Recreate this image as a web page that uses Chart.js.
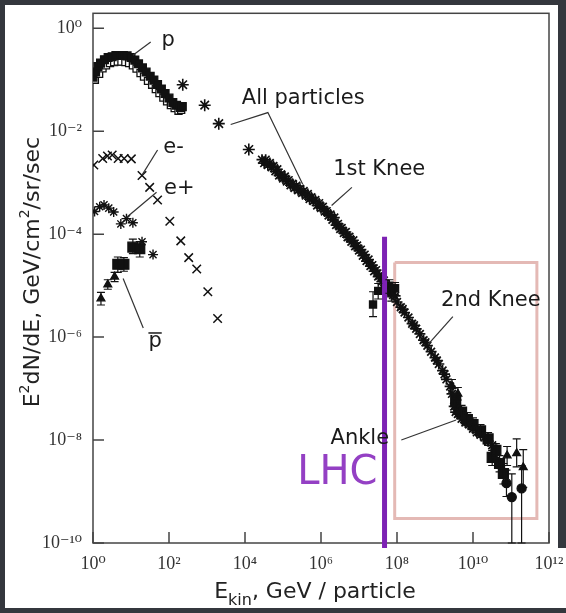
<!DOCTYPE html>
<html>
<head>
<meta charset="utf-8">
<script src="https://cdn.jsdelivr.net/npm/chart.js@4.4.1/dist/chart.umd.min.js"></script>
<style>
  html, body { margin: 0; padding: 0; background: #34373d; }
  .paper { position: absolute; background: #fff; }
  #wrap { position: absolute; left: 5px; top: 5px; width: 561px; height: 603px; }
</style>
</head>
<body>
<div class="paper" style="left:5px;top:5px;width:553px;height:603px"></div>
<div class="paper" style="left:530px;top:548px;width:36px;height:60px"></div>
<div id="wrap"><canvas id="chart"></canvas></div>
<script>
// axis ticks
const xTicks = [1e0, 1e2, 1e4, 1e6, 1e8, 1e10, 1e12];
const yTicks = [1e0, 1e-2, 1e-4, 1e-6, 1e-8, 1e-10];

// protons (two overlapping data sets)
const protonE = [1.0, 1.17, 1.35, 1.58, 2.0, 2.5, 3.2, 4.0, 5.0, 6.3, 7.9, 10, 12.6, 15.8, 20, 25, 32, 40, 50, 63, 79, 100, 126, 158, 200, 224];
const protonFlux = [0.112, 0.141, 0.18, 0.21, 0.245, 0.27, 0.28, 0.295, 0.295, 0.295, 0.29, 0.27, 0.24, 0.204, 0.17, 0.141, 0.117, 0.098, 0.081, 0.066, 0.054, 0.044, 0.036, 0.032, 0.029, 0.030];
const protonE2 = [1.12, 1.45, 1.78, 2.2, 2.8, 3.6, 4.5, 5.6, 7.1, 8.9, 11.2, 14, 17.8, 22, 28, 36, 45, 56, 71, 89, 112, 141, 178, 209];
const protonFlux2 = [0.10, 0.13, 0.166, 0.19, 0.21, 0.22, 0.224, 0.224, 0.219, 0.21, 0.19, 0.165, 0.135, 0.115, 0.095, 0.08, 0.066, 0.055, 0.045, 0.038, 0.032, 0.028, 0.025, 0.026];

// all particles
const allSparseE = [230, 870, 2040, 1.26e4];
const allSparseFlux = [0.08, 0.032, 0.014, 4.4e-3];
const allE = [2.8e4, 3.2e4, 3.5e4, 4.0e4, 4.5e4, 5.0e4, 5.6e4, 6.3e4, 7.1e4, 7.9e4, 8.9e4,
  1.0e5, 1.12e5, 1.26e5, 1.41e5, 1.58e5, 1.78e5, 2.0e5, 2.24e5, 2.5e5, 2.8e5, 3.2e5, 3.5e5, 4.0e5, 4.5e5, 5.0e5, 5.6e5, 6.3e5, 7.1e5, 7.9e5, 8.9e5,
  1.0e6, 1.12e6, 1.26e6, 1.41e6, 1.58e6, 1.78e6, 2.0e6, 2.24e6, 2.5e6, 2.8e6, 3.2e6, 3.5e6, 4.0e6, 4.5e6, 5.0e6, 5.6e6, 6.3e6, 7.1e6, 7.9e6, 8.9e6,
  1.0e7, 1.12e7, 1.26e7, 1.41e7, 1.58e7, 1.78e7, 2.0e7, 2.24e7, 2.5e7, 2.8e7, 3.2e7, 3.5e7, 4.0e7, 4.5e7, 5.0e7, 5.6e7, 6.3e7, 7.1e7, 7.9e7, 8.9e7,
  1.0e8, 1.26e8, 1.41e8, 1.58e8, 2.0e8, 2.5e8, 2.8e8, 3.2e8, 4.0e8, 5.0e8, 5.6e8, 6.3e8, 7.9e8,
  1.0e9, 1.12e9, 1.26e9, 1.58e9, 1.78e9, 2.0e9, 2.5e9, 2.8e9, 3.2e9, 3.5e9, 4.0e9, 4.5e9, 5.0e9, 5.6e9, 6.3e9, 7.9e9,
  1.0e10, 1.26e10, 1.58e10, 2.0e10, 2.5e10, 3.2e10];
const allFlux = [2.8e-3, 2.4e-3, 2.8e-3, 2.2e-3, 2.4e-3, 2.0e-3, 2.1e-3, 1.66e-3, 1.82e-3, 1.38e-3, 1.45e-3,
  1.2e-3, 1.32e-3, 1.05e-3, 1.12e-3, 8.9e-4, 9.5e-4, 7.9e-4, 8.7e-4, 7.1e-4, 7.6e-4, 6.3e-4, 6.9e-4, 5.6e-4, 6.0e-4, 4.8e-4, 5.2e-4, 4.4e-4, 4.6e-4, 3.6e-4, 4.0e-4,
  3.2e-4, 3.4e-4, 2.75e-4, 2.8e-4, 2.3e-4, 2.4e-4, 1.9e-4, 2.1e-4, 1.5e-4, 1.58e-4, 1.26e-4, 1.32e-4, 1.05e-4, 1.1e-4, 8.7e-5, 8.9e-5, 7.1e-5, 7.6e-5, 5.8e-5, 6.0e-5,
  4.8e-5, 5.0e-5, 3.8e-5, 4.0e-5, 3.0e-5, 3.2e-5, 2.4e-5, 2.5e-5, 1.9e-5, 2.0e-5, 1.5e-5, 1.58e-5, 1.2e-5, 1.26e-5, 1.0e-5, 9.5e-6, 8.3e-6, 7.9e-6, 6.6e-6, 6.3e-6,
  4.8e-6, 3.8e-6, 3.5e-6, 3.0e-6, 2.4e-6, 1.82e-6, 1.7e-6, 1.45e-6, 1.15e-6, 8.7e-7, 7.9e-7, 6.8e-7, 5.2e-7,
  4.0e-7, 3.5e-7, 3.0e-7, 2.24e-7, 1.9e-7, 1.51e-7, 1.1e-7, 7.9e-8, 4.5e-8, 3.5e-8, 3.2e-8, 3.5e-8, 2.6e-8, 2.8e-8, 2.2e-8, 2.0e-8,
  1.66e-8, 1.41e-8, 1.26e-8, 1.12e-8, 9.5e-9, 7.9e-9];

// points with error bars around the LHC energy
const lhcPtsE = [2.34e7, 3.2e7, 6.3e7, 7.1e7, 8.9e7];
const lhcPtsFlux = [4.3e-6, 7.9e-6, 1.0e-5, 7.1e-6, 8.9e-6];
const lhcPtsLo = [2.5e-6, 5.5e-6, 7.1e-6, 5.0e-6, 6.6e-6];
const lhcPtsHi = [7.6e-6, 1.1e-5, 1.3e-5, 9.0e-6, 1.15e-5];

// highest energies
const hiSqE = [3.5e9, 5.0e9, 7.1e9, 1.0e10, 1.58e10, 2.5e10, 3.2e10, 4.0e10, 5.0e10, 6.3e10];
const hiSqFlux = [5.6e-8, 3.5e-8, 2.5e-8, 2.0e-8, 1.51e-8, 1.05e-8, 4.6e-9, 6.3e-9, 3.5e-9, 2.24e-9];
const hiSqLo = [4.2e-8, 2.6e-8, 1.9e-8, 1.5e-8, 1.13e-8, 7.9e-9, 3.2e-9, 4.6e-9, 2.4e-9, 1.4e-9];
const hiSqHi = [7.6e-8, 4.7e-8, 3.4e-8, 2.7e-8, 2.0e-8, 1.4e-8, 6.3e-9, 8.5e-9, 5.0e-9, 3.5e-9];
const hiTriE = [2.8e9, 4.0e9, 7.9e10, 1.41e11, 2.1e11];
const hiTriFlux = [1.12e-7, 7.9e-8, 5.0e-9, 5.5e-9, 2.95e-9];
const hiTriLo = [8.5e-8, 6.0e-8, 3.2e-9, 3.0e-9, 1.2e-9];
const hiTriHi = [1.5e-7, 1.05e-7, 7.5e-9, 1.05e-8, 6.5e-9];
const hiCircE = [7.6e10, 1.05e11, 1.9e11];
const hiCircFlux = [1.45e-9, 7.8e-10, 1.15e-9];
const hiCircLo = [8e-10, 1e-10, 1e-10];
const hiCircHi = [2.6e-9, 2.2e-9, 3.2e-9];

// electrons, positrons, antiprotons
const eMinusE = [1.05, 1.8, 2.4, 3.2, 4.6, 6.6, 10.2, 19.5, 31, 50, 105, 204, 330, 537, 1050, 1900];
const eMinusFlux = [2.2e-3, 2.95e-3, 3.3e-3, 3.45e-3, 2.95e-3, 2.95e-3, 2.9e-3, 1.38e-3, 8.1e-4, 4.6e-4, 1.78e-4, 7.4e-5, 3.5e-5, 2.1e-5, 7.6e-6, 2.3e-6];
const ePlusE = [1.1, 1.5, 1.95, 2.6, 3.5, 5.4, 7.6, 11.2, 19.5, 38];
const ePlusFlux = [2.75e-4, 3.4e-4, 3.7e-4, 3.2e-4, 2.7e-4, 1.58e-4, 2.0e-4, 1.66e-4, 7.1e-5, 4.0e-5];
const pbarTriE = [1.62, 2.45, 3.7];
const pbarTriFlux = [5.6e-6, 1.05e-5, 1.48e-5];
const pbarTriLo = [4.2e-6, 8.5e-6, 1.2e-5];
const pbarTriHi = [7.4e-6, 1.3e-5, 1.8e-5];
const pbarSqE = [4.5, 6.5, 11.2, 17];
const pbarSqFlux = [2.6e-5, 2.6e-5, 5.6e-5, 5.2e-5];
const pbarSqLo = [1.8e-5, 1.9e-5, 4.2e-5, 3.6e-5];
const pbarSqHi = [3.6e-5, 3.5e-5, 8.0e-5, 7.2e-5];

// LHC line and highlighted region
const lhcE = 4.7e7;
const lhcFlux = [8.9e-5, 8e-11];
const boxE = [8.7e7, 4.8e11];
const boxFlux = [2.8e-5, 3.0e-10];

// annotations: [E, flux]
const notes = [
  { text: "p", x: 95, y: 0.57 },
  { text: "All particles", x: 3.4e5, y: 0.043 },
  { text: "1st Knee", x: 3.4e7, y: 1.8e-3 },
  { text: "e-", x: 132, y: 4.9e-3 },
  { text: "e+", x: 186, y: 7.8e-4 },
  { text: "p", x: 43, y: 8.1e-7, bar: true },
  { text: "2nd Knee", x: 2.95e10, y: 5.1e-6 },
  { text: "Ankle", x: 1.05e7, y: 1.07e-8 },
  { text: "LHC", x: 2.7e6, y: 2.2e-9, color: "#9440c4", size: 40 },
];
const leaders = [
  [[11.2, 0.30], [33, 0.54]],
  [[4.2e3, 0.0135], [4.0e4, 0.023], [3.3e5, 9.3e-4]],
  [[1.9e6, 3.6e-4], [6.5e6, 8.1e-4]],
  [[20, 1.45e-3], [50, 4.3e-3]],
  [[7.6, 2.1e-4], [47, 6.5e-4]],
  [[6.2, 1.38e-5], [21, 1.5e-6]],
  [[2.95e9, 2.5e-6], [6.6e8, 7.2e-7]],
  [[1.3e8, 1.0e-8], [3.6e9, 2.45e-8]],
];

const INK = "#111";
const SANS = '"DejaVu Sans", sans-serif';
const SERIF = '"Liberation Serif", "DejaVu Serif", serif';

function pts(xs, ys) {
  return xs.map((v, i) => ({ x: v, y: ys[i] }));
}

const supMap = { "-": "⁻", "0": "⁰", "1": "¹", "2": "²", "3": "³", "4": "⁴", "5": "⁵", "6": "⁶", "7": "⁷", "8": "⁸", "9": "⁹" };
function powLabel(v) {
  const e = Math.round(Math.log10(v));
  return "10" + String(e).split("").map((c) => supMap[c]).join("");
}

function scatterSet(xs, ys, style, radius, fill, extra) {
  return Object.assign({
    type: "scatter",
    data: pts(xs, ys),
    pointStyle: style,
    pointRadius: radius,
    pointBackgroundColor: fill,
    pointBorderColor: INK,
    pointBorderWidth: 1.3,
    order: 5,
  }, extra || {});
}

const datasets = [
  {
    type: "line",
    data: [{ x: boxE[0], y: boxFlux[0] }, { x: boxE[1], y: boxFlux[0] }, { x: boxE[1], y: boxFlux[1] }, { x: boxE[0], y: boxFlux[1] }, { x: boxE[0], y: boxFlux[0] }],
    borderColor: "#e4b9b5",
    borderWidth: 3,
    pointRadius: 0,
    fill: false,
    order: 10,
  },
  scatterSet(protonE2, protonFlux2, "rect", 5, "#fff", { order: 6 }),
  scatterSet(protonE, protonFlux, "rect", 5.5, INK),
  scatterSet(allSparseE, allSparseFlux, "star", 6, INK, { pointBorderWidth: 1.6 }),
  scatterSet(allE, allFlux, "star", 5.5, INK, { pointBorderWidth: 1.7 }),
  scatterSet(eMinusE, eMinusFlux, "crossRot", 6, INK, { pointBorderWidth: 1.5 }),
  scatterSet(ePlusE, ePlusFlux, "star", 5, INK, { pointBorderWidth: 1.4 }),
  scatterSet(pbarTriE, pbarTriFlux, "triangle", 4.5, INK, { errLo: pbarTriLo, errHi: pbarTriHi }),
  scatterSet(pbarSqE, pbarSqFlux, "rect", 7, INK, { errLo: pbarSqLo, errHi: pbarSqHi }),
  scatterSet(lhcPtsE, lhcPtsFlux, "rect", 5, INK, { errLo: lhcPtsLo, errHi: lhcPtsHi }),
  scatterSet(hiSqE, hiSqFlux, "rect", 7, INK, { errLo: hiSqLo, errHi: hiSqHi }),
  scatterSet(hiTriE, hiTriFlux, "triangle", 4.5, INK, { errLo: hiTriLo, errHi: hiTriHi }),
  scatterSet(hiCircE, hiCircFlux, "circle", 4.5, INK, { errLo: hiCircLo, errHi: hiCircHi }),
  {
    type: "line",
    data: [{ x: lhcE, y: lhcFlux[0] }, { x: lhcE, y: lhcFlux[1] }],
    borderColor: "#7d22b4",
    borderWidth: 5,
    pointRadius: 0,
    fill: false,
    clip: false,
    order: 0,
  },
];

leaders.forEach((seg) => {
  datasets.push({
    type: "line",
    data: seg.map((p) => ({ x: p[0], y: p[1] })),
    borderColor: "#333",
    borderWidth: 1.2,
    pointRadius: 0,
    fill: false,
    order: 4,
  });
});

const framePlugin = {
  id: "frame",
  beforeDatasetsDraw(chart) {
    const { ctx, chartArea: a, scales: { x, y } } = chart;
    ctx.save();
    ctx.strokeStyle = "#444";
    ctx.lineWidth = 1.5;
    ctx.strokeRect(a.left, a.top, a.right - a.left, a.bottom - a.top);
    ctx.beginPath();
    yTicks.forEach((v) => {
      const py = y.getPixelForValue(v);
      ctx.moveTo(a.left, py);
      ctx.lineTo(a.left + 11, py);
    });
    xTicks.forEach((v) => {
      const px = x.getPixelForValue(v);
      ctx.moveTo(px, a.bottom);
      ctx.lineTo(px, a.bottom - 11);
    });
    ctx.stroke();
    ctx.restore();
  },
};

const errorBarPlugin = {
  id: "errorBars",
  afterDatasetsDraw(chart) {
    const { ctx, scales: { x, y } } = chart;
    ctx.save();
    ctx.strokeStyle = INK;
    ctx.lineWidth = 1.2;
    chart.data.datasets.forEach((ds) => {
      if (!ds.errLo) return;
      ds.data.forEach((p, i) => {
        const px = x.getPixelForValue(p.x);
        const y1 = y.getPixelForValue(ds.errLo[i]);
        const y2 = y.getPixelForValue(ds.errHi[i]);
        ctx.beginPath();
        ctx.moveTo(px, y1);
        ctx.lineTo(px, y2);
        ctx.moveTo(px - 4, y1);
        ctx.lineTo(px + 4, y1);
        ctx.moveTo(px - 4, y2);
        ctx.lineTo(px + 4, y2);
        ctx.stroke();
      });
    });
    ctx.restore();
  },
};

const notesPlugin = {
  id: "notes",
  afterDatasetsDraw(chart) {
    const { ctx, scales: { x, y } } = chart;
    ctx.save();
    ctx.textAlign = "center";
    ctx.textBaseline = "middle";
    notes.forEach((n) => {
      const size = n.size || 21;
      const px = x.getPixelForValue(n.x);
      const py = y.getPixelForValue(n.y);
      ctx.font = size + "px " + SANS;
      ctx.fillStyle = n.color || "#1a1a1a";
      ctx.fillText(n.text, px, py);
      if (n.bar) {
        const w = ctx.measureText(n.text).width;
        ctx.strokeStyle = "#1a1a1a";
        ctx.lineWidth = 1.5;
        ctx.beginPath();
        ctx.moveTo(px - w / 2, py - size * 0.42);
        ctx.lineTo(px + w / 2, py - size * 0.42);
        ctx.stroke();
      }
    });
    ctx.restore();
  },
};

function drawRich(ctx, parts, size, small) {
  let total = 0;
  parts.forEach((p) => {
    ctx.font = (p.sup || p.sub ? small : size) + "px " + SANS;
    p.w = ctx.measureText(p.t).width;
    total += p.w;
  });
  let cx = -total / 2;
  parts.forEach((p) => {
    ctx.font = (p.sup || p.sub ? small : size) + "px " + SANS;
    const dy = p.sup ? -size * 0.45 : p.sub ? size * 0.33 : 0;
    ctx.fillText(p.t, cx, dy);
    cx += p.w;
  });
}

const titlesPlugin = {
  id: "titles",
  afterDraw(chart) {
    const { ctx, chartArea: a } = chart;
    ctx.save();
    ctx.fillStyle = "#222";
    ctx.textAlign = "left";
    ctx.textBaseline = "alphabetic";
    ctx.translate((a.left + a.right) / 2 - 6, a.bottom + 55);
    drawRich(ctx, [{ t: "E" }, { t: "kin", sub: true }, { t: ", GeV / particle" }], 22, 16);
    ctx.restore();

    ctx.save();
    ctx.fillStyle = "#222";
    ctx.textAlign = "left";
    ctx.textBaseline = "alphabetic";
    ctx.translate(34, (a.top + a.bottom) / 2 - 6);
    ctx.rotate(-Math.PI / 2);
    drawRich(ctx, [{ t: "E" }, { t: "2", sup: true }, { t: "dN/dE, GeV/cm" }, { t: "2", sup: true }, { t: "/sr/sec" }], 22, 14);
    ctx.restore();
  },
};

new Chart(document.getElementById("chart"), {
  type: "scatter",
  data: { datasets: datasets },
  options: {
    responsive: true,
    maintainAspectRatio: false,
    animation: false,
    events: [],
    layout: { padding: { top: 5, right: 17, left: 0, bottom: 0 } },
    plugins: {
      legend: { display: false },
      tooltip: { enabled: false },
    },
    scales: {
      x: {
        type: "logarithmic",
        min: 1,
        max: 1e12,
        bounds: "data",
        afterBuildTicks: (s) => { s.ticks = xTicks.map((v) => ({ value: v })); },
        afterFit: (s) => { s.height = 65; s.paddingLeft = 0; s.paddingRight = 0; },
        grid: { display: false, drawTicks: false },
        border: { display: false },
        ticks: {
          autoSkip: false,
          maxRotation: 0,
          padding: 10,
          color: "#333",
          font: { family: SERIF, size: 18 },
          callback: (v) => powLabel(v),
        },
      },
      y: {
        type: "logarithmic",
        min: 1e-10,
        max: 1.95,
        bounds: "data",
        afterBuildTicks: (s) => { s.ticks = yTicks.map((v) => ({ value: v })); },
        afterFit: (s) => { s.width = 88; s.paddingTop = 0; s.paddingBottom = 0; },
        grid: { display: false, drawTicks: false },
        border: { display: false },
        ticks: {
          autoSkip: false,
          padding: 11,
          color: "#333",
          font: { family: SERIF, size: 18 },
          callback: (v) => powLabel(v),
        },
      },
    },
  },
  plugins: [framePlugin, errorBarPlugin, notesPlugin, titlesPlugin],
});
</script>
</body>
</html>
